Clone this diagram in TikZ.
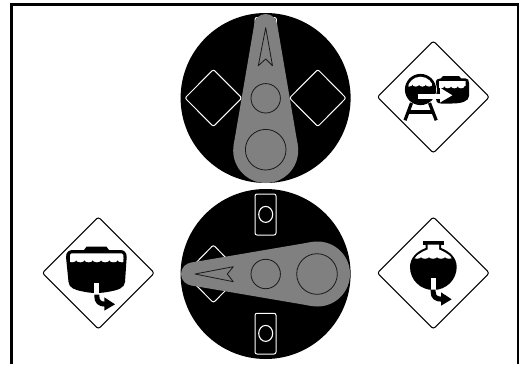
\documentclass[tikz,border=0pt]{standalone}
\tikzset{
 x=1pt,y=-1pt,
 sign/.style={draw=black,line width=1pt,fill=white,rounded corners=2.5pt},
 wsign/.style={draw=white,line width=1pt,rounded corners=2pt},
 dial/.style={fill=black},
 lever/.style={fill=black!50},
 mark line/.style={draw=black!90,line width=0.8pt},
 bpipe/.style={draw=black,line width=5pt},
 leg/.style={draw=black,line width=3.2pt}
}
% scallops: white bumps hanging from a water line (first, last, second, y, half-width)
\newcommand{\scallops}[5]{\foreach \sx in {#1,#3,...,#2} {\fill[white] (\sx,#4) ellipse (#5 and 2.5);}}
\begin{document}
\begin{tikzpicture}
\useasboundingbox (0,0) rectangle (519,364);
\fill[white] (0,0) rectangle (519,364);
\draw[line width=3pt] (11.5,364) -- (11.5,4.5) -- (518.5,4.5) -- (518.5,364);
% top dial
\fill[dial] (265.6,98) circle (85);
\draw[wsign] (185,98) -- (213.4,69.5) -- (241.8,98) -- (213.4,126.5) -- cycle;
\draw[wsign] (289.5,98) -- (317.8,69.5) -- (346,98) -- (317.8,126.5) -- cycle;
\draw[wsign] (255,60) -- (255,17.5) -- (276.4,17.5) -- (276.4,60);
\fill[lever] (265.7,25.5) circle (11.5);
\fill[lever] (265.7,150.5) circle (32.5);
\fill[lever] (254.36,23.57) -- (277.04,23.57) -- (297.74,145.04) -- (233.66,145.04) -- cycle;
\draw[mark line,line join=round] (265.7,27.7) -- (258.3,65.7) -- (265.7,59) -- (272.5,65.7) -- cycle;
\draw[mark line] (265.7,98.3) circle (14.7);
\draw[mark line] (265.7,149.7) circle (20.3);
% bottom dial
\fill[dial] (265.6,274) circle (85);
\draw[wsign] (255,194) rectangle (276,235);
\draw[white,line width=1.1pt] (265.7,214.4) ellipse (7 and 8);
\draw[wsign] (255,313.3) rectangle (276,354);
\draw[white,line width=1.1pt] (265.7,333.4) ellipse (7 and 8);
\draw[wsign] (185,274) -- (213.4,245) -- (241.8,274) -- (213.4,302.7) -- cycle;
\fill[lever] (192.5,274) circle (11.5);
\fill[lever] (317.5,274) circle (32.5);
\fill[lever] (190.57,262.66) -- (312.04,241.96) -- (312.04,306.04) -- (190.57,285.34) -- cycle;
\draw[mark line,line join=round] (195,274) -- (233.3,266.7) -- (227.3,274) -- (233.3,281.7) -- cycle;
\draw[mark line] (265.7,274) circle (14.7);
\draw[mark line] (317,274) circle (20.3);
% sign: transfer between tanks
\draw[sign] (377.3,97) -- (433.3,41) -- (489.3,97) -- (433.3,153) -- cycle;
\fill[black] (435.7,83) .. controls (435.7,79.5) and (438,78.3) .. (441,78.3) -- (443,76) -- (459,76) -- (461,78.3) -- (465,78.3)
  .. controls (468,78.3) and (469,80) .. (469,83) -- (469,96) .. controls (469,101) and (462,103.5) .. (452,103.5) -- (441,103.5) .. controls (437,103.5) and (435.7,101) .. (435.7,98) -- cycle;
\begin{scope}
 \clip (439,81) rectangle (465.5,92);
 \fill[white] (439,81) rectangle (465.5,86);
 \scallops{441}{466}{447.7}{85.8}{3.6}
\end{scope}
\draw[white,line width=0.8pt] (420.5,89.5) circle (16);
\fill[black] (420.5,89.5) circle (15.6);
\begin{scope}
 \clip (420.5,89.5) circle (12.8);
 \fill[white] (405,76) rectangle (436,84.3);
 \scallops{409}{434}{415.7}{84.1}{3.6}
\end{scope}
\fill[white] (418.3,94) rectangle (441,98.8);
\fill[white] (440,87.7) -- (452.3,95.3) -- (440,102.5) -- cycle;
\draw[leg] (411.5,103) -- (405,120.3);
\draw[leg] (429.5,103) -- (436.2,120.3);
\draw[leg] (408,112) -- (433,112);
% sign: spherical vessel draining
\draw[sign] (377.3,273) -- (433.3,217) -- (489.3,273) -- (433.3,329) -- cycle;
\fill[black] (425.7,243) -- (441,243) -- (441,248) .. controls (450,251.5) and (456.7,258) .. (456.7,267)
  .. controls (456.7,280) and (446,290) .. (433.3,290) .. controls (420.5,290) and (410,280) .. (410,267)
  .. controls (410,258) and (416.5,251.5) .. (425.7,248) -- cycle;
\fill[black] (422.7,241) rectangle (444.3,244.6);
\begin{scope}
 \clip (427.7,244.6) -- (439,244.6) -- (439,249.5) .. controls (447,252.5) and (454.5,258) .. (455,267)
  -- (411.5,267) .. controls (412,258) and (419.5,252.5) .. (427.7,249.5) -- cycle;
 \fill[white] (405,240) rectangle (460,256.6);
 \scallops{417}{452}{425}{256.3}{4.4}
\end{scope}
\fill[white] (430.7,278) rectangle (435.7,290);
\draw[bpipe] (433.2,289.5) -- (433.2,292) .. controls (433.2,297) and (436,299.2) .. (442,299.2);
\fill[black] (441,292.3) -- (451.7,299.3) -- (441,305.7) -- cycle;
% sign: open tank draining
\draw[sign] (42.3,273) -- (98.3,217) -- (154.3,273) -- (98.3,329) -- cycle;
\fill[black] (66,257) .. controls (66,252) and (69,250) .. (73,250) -- (84,250) -- (86.5,246.7) -- (106.5,246.7) -- (109,250) -- (120,250)
  .. controls (124,250) and (126.7,252) .. (126.7,257) -- (125,282) .. controls (124.5,288) and (118,290) .. (110,291.5) .. controls (100,293.5) and (92,293.5) .. (83,291.5)
  .. controls (75,290) and (69,288) .. (68.5,282) -- cycle;
\begin{scope}
 \clip (70,253.3) rectangle (123.3,270);
 \fill[white,rounded corners=1.5pt] (70,253.3) rectangle (123.3,260);
 \scallops{72}{124}{80.3}{259.8}{4.4}
\end{scope}
\fill[white] (94.3,283.3) rectangle (99.3,295);
\draw[bpipe] (96.8,294.5) -- (96.8,296) .. controls (96.8,301.5) and (99.5,304.2) .. (105.5,304.2);
\fill[black] (104.3,297.3) -- (115,304.3) -- (104.3,310.7) -- cycle;
\end{tikzpicture}
\end{document}
